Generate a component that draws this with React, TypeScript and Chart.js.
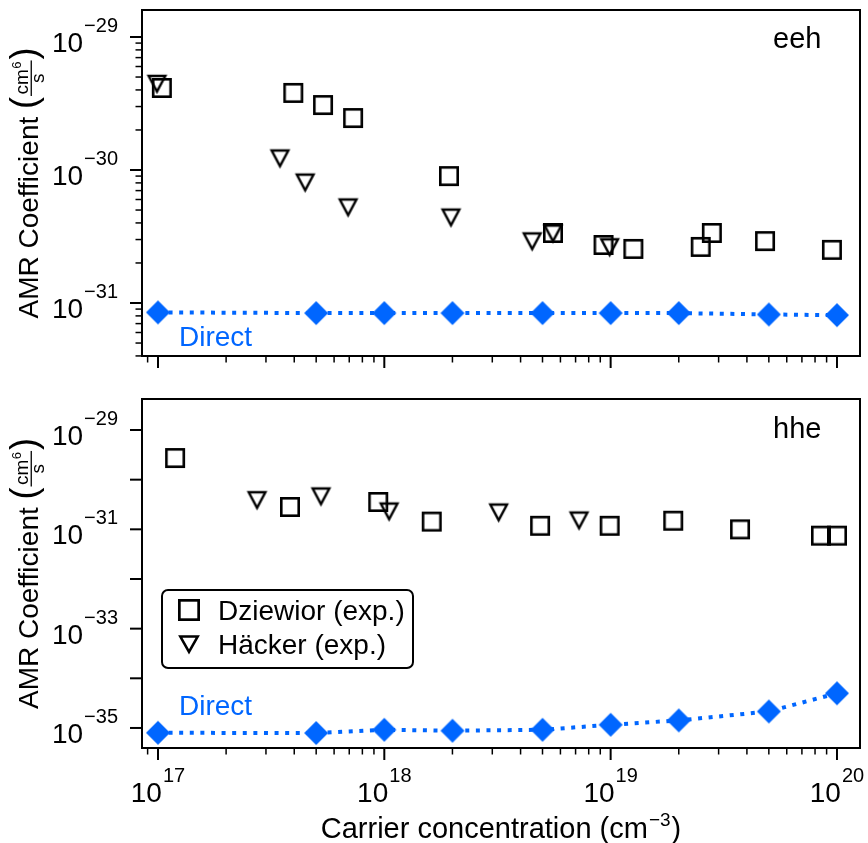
import React, { useEffect, useRef } from 'react';
import { Chart, registerables } from 'chart.js';

Chart.register(...registerables);

const FONT = '"Liberation Sans", Arial, Helvetica, sans-serif';
const BLUE = '#0066ff';

// ---------- data ----------
const directX = [1e17, 5e17, 1e18, 2e18, 5e18, 1e19, 2e19, 5e19, 1e20];
const eehDirect = [8.5e-32, 8.4e-32, 8.4e-32, 8.4e-32, 8.4e-32, 8.4e-32, 8.4e-32, 8.2e-32, 8.1e-32];
const hheDirect = [8.0e-36, 7.9e-36, 9.2e-36, 8.8e-36, 9.2e-36, 1.16e-35, 1.42e-35, 2.15e-35, 5.0e-35];

const eehDziewiorX = [1.04e17, 3.96e17, 5.36e17, 7.28e17, 1.93e18, 5.56e18, 9.3e18, 1.26e19, 2.5e19, 2.8e19, 4.81e19, 9.5e19];
const eehDziewiorY = [4.14e-30, 3.8e-30, 3.08e-30, 2.46e-30, 9.0e-31, 3.36e-31, 2.73e-31, 2.55e-31, 2.64e-31, 3.36e-31, 2.92e-31, 2.51e-31];
const eehHackerX = [9.9e16, 3.46e17, 4.47e17, 6.92e17, 1.97e18, 4.5e18, 5.56e18, 9.9e18];
const eehHackerY = [4.4e-30, 1.21e-30, 7.97e-31, 5.18e-31, 4.35e-31, 2.88e-31, 3.3e-31, 2.6e-31];

const hheDziewiorX = [1.19e17, 3.83e17, 9.4e17, 1.62e18, 4.88e18, 9.9e18, 1.89e19, 3.73e19, 8.5e19, 1.0e20];
const hheDziewiorY = [2.73e-30, 2.82e-31, 3.55e-31, 1.43e-31, 1.18e-31, 1.18e-31, 1.49e-31, 1.0e-31, 7.45e-32, 7.45e-32];
const hheHackerX = [2.74e17, 5.25e17, 1.05e18, 3.2e18, 7.25e18];
const hheHackerY = [3.77e-31, 4.48e-31, 2.23e-31, 2.13e-31, 1.47e-31];

const xMajor = [1e17, 1e18, 1e19, 1e20];
const xMajorLabels = ['17', '18', '19', '20'];
const eehYMajor = [1e-29, 1e-30, 1e-31];
const eehYLabels = ['−29', '−30', '−31'];
const hheYMajor = [1e-29, 1e-30, 1e-31, 1e-32, 1e-33, 1e-34, 1e-35];
const hheYLabels = ['−29', '', '−31', '', '−33', '', '−35'];

const X_MIN = 8.5e16;
const X_MAX = 1.264e20;

// ---------- marker images ----------
function makeSquare(size: number, lw: number) {
  const s = Math.ceil(size + 4);
  const c = document.createElement('canvas');
  c.width = s; c.height = s;
  const g = c.getContext('2d')!;
  g.strokeStyle = '#000';
  g.lineWidth = lw;
  const h = size / 2 - lw / 2;
  g.strokeRect(s / 2 - h, s / 2 - h, 2 * h, 2 * h);
  return c;
}
function makeTriangle(w: number, h: number, lw: number) {
  const s = Math.ceil(Math.max(w, h) + 10);
  const c = document.createElement('canvas');
  c.width = s; c.height = s;
  const g = c.getContext('2d')!;
  g.strokeStyle = '#000';
  g.lineWidth = lw;
  g.lineJoin = 'miter';
  const hw = w / 2 - lw * 0.9;
  const hh = h / 2 - lw * 0.6;
  g.beginPath();
  g.moveTo(s / 2 - hw, s / 2 - hh);
  g.lineTo(s / 2 + hw, s / 2 - hh);
  g.lineTo(s / 2, s / 2 + hh - lw * 0.6);
  g.closePath();
  g.stroke();
  return c;
}
function makeDiamond(r: number) {
  const s = Math.ceil(2 * r + 2);
  const c = document.createElement('canvas');
  c.width = s; c.height = s;
  const g = c.getContext('2d')!;
  g.fillStyle = BLUE;
  g.beginPath();
  g.moveTo(s / 2, s / 2 - r);
  g.lineTo(s / 2 + r, s / 2);
  g.lineTo(s / 2, s / 2 + r);
  g.lineTo(s / 2 - r, s / 2);
  g.closePath();
  g.fill();
  return c;
}

// ---------- text helpers ----------
function drawPow(g: CanvasRenderingContext2D, sup: string, x: number, baseY: number, align: 'center' | 'right') {
  g.fillStyle = '#000';
  g.textBaseline = 'alphabetic';
  g.textAlign = 'left';
  g.font = `28px ${FONT}`;
  const wb = g.measureText('10').width;
  g.font = `20px ${FONT}`;
  const ws = g.measureText(sup).width;
  const gap = 1;
  const total = wb + gap + ws;
  const x0 = align === 'center' ? x - total / 2 : x - total;
  g.font = `28px ${FONT}`;
  g.fillText('10', x0, baseY);
  g.font = `20px ${FONT}`;
  g.fillText(sup, x0 + wb + gap, baseY - 20);
}

function drawYTitle(g: CanvasRenderingContext2D, cx: number, cy: number) {
  g.save();
  g.translate(cx, cy);
  g.rotate(-Math.PI / 2);
  g.fillStyle = '#000';
  g.textAlign = 'left';
  g.textBaseline = 'alphabetic';
  const main = 'AMR Coefficient ';
  g.font = `28px ${FONT}`;
  const wMain = g.measureText(main).width;
  g.font = `36px ${FONT}`;
  const wParen = g.measureText('(').width;
  g.font = `19px ${FONT}`;
  const wCm = g.measureText('cm').width;
  const wS = g.measureText('s').width;
  g.font = `13px ${FONT}`;
  const wSix = g.measureText('6').width;
  const fracW = wCm + wSix + 3;
  const total = wMain + wParen + 1 + fracW + 1 + wParen;
  let x = -total / 2;
  g.font = `28px ${FONT}`;
  g.fillText(main, x, 0);
  x += wMain;
  g.font = `36px ${FONT}`;
  g.fillText('(', x, -2.5);
  x += wParen + 1;
  g.font = `19px ${FONT}`;
  const nx = x + (fracW - (wCm + wSix)) / 2;
  g.fillText('cm', nx, -10);
  g.font = `13px ${FONT}`;
  g.fillText('6', nx + wCm + 0.5, -17);
  g.fillRect(x, -7.4, fracW, 1.3);
  g.font = `19px ${FONT}`;
  g.fillText('s', x + (fracW - wS) / 2, 6);
  x += fracW + 1;
  g.font = `36px ${FONT}`;
  g.fillText(')', x, -2.5);
  g.restore();
}

function drawXTitle(g: CanvasRenderingContext2D, cx: number, baseY: number) {
  g.fillStyle = '#000';
  g.textAlign = 'left';
  g.textBaseline = 'alphabetic';
  const a = 'Carrier concentration (cm';
  const sup = '−3';
  const b = ')';
  g.font = `29px ${FONT}`;
  const wa = g.measureText(a).width;
  const wb = g.measureText(b).width;
  g.font = `19px ${FONT}`;
  const ws = g.measureText(sup).width;
  const total = wa + 1 + ws + 1 + wb;
  let x = cx - total / 2;
  g.font = `29px ${FONT}`;
  g.fillText(a, x, baseY);
  x += wa + 1;
  g.font = `19px ${FONT}`;
  g.fillText(sup, x, baseY - 12);
  x += ws + 1;
  g.font = `29px ${FONT}`;
  g.fillText(b, x, baseY);
}

type PanelSpec = {
  name: string;
  yMin: number;
  yMax: number;
  yMajor: number[];
  yLabels: string[];
  yMinor: boolean;
  direct: number[];
  dzX: number[]; dzY: number[];
  hkX: number[]; hkY: number[];
  padTop: number;
  padBottom: number;
  directTextBase: number;
  nameBase: number;
  showXLabels: boolean;
  legend: boolean;
};

function makePlugin(spec: PanelSpec, legendSq: HTMLCanvasElement, legendTri: HTMLCanvasElement) {
  return {
    id: 'frame_' + spec.name,
    afterDraw(chart: any) {
      const g: CanvasRenderingContext2D = chart.ctx;
      const a = chart.chartArea;
      const xs = chart.scales.x;
      const ys = chart.scales.y;
      g.save();
      g.strokeStyle = '#000';
      g.lineWidth = 2;
      g.strokeRect(a.left, a.top, a.right - a.left, a.bottom - a.top);

      const xTick = (v: number, len: number, lw: number) => {
        const px = xs.getPixelForValue(v);
        if (px < a.left - 0.5 || px > a.right + 0.5) return;
        g.lineWidth = lw;
        g.beginPath();
        g.moveTo(px, a.bottom);
        g.lineTo(px, a.bottom + len);
        g.stroke();
      };
      for (let e = 16; e <= 20; e++) {
        for (let k = 2; k <= 9; k++) xTick(k * Math.pow(10, e), 6.5, 1.5);
      }
      xMajor.forEach((v) => xTick(v, 12, 2));

      const yTick = (v: number, len: number, lw: number) => {
        const py = ys.getPixelForValue(v);
        if (py < a.top - 0.5 || py > a.bottom + 0.5) return;
        g.lineWidth = lw;
        g.beginPath();
        g.moveTo(a.left, py);
        g.lineTo(a.left - len, py);
        g.stroke();
      };
      if (spec.yMinor) {
        for (let e = -33; e <= -28; e++) {
          for (let k = 2; k <= 9; k++) yTick(k * Math.pow(10, e), 6.5, 1.5);
        }
      }
      spec.yMajor.forEach((v) => yTick(v, 12, 2));

      spec.yMajor.forEach((v, i) => {
        const lab = spec.yLabels[i];
        if (!lab) return;
        const py = ys.getPixelForValue(v);
        drawPow(g, lab, a.left - 24, py + 15, 'right');
      });
      if (spec.showXLabels) {
        xMajor.forEach((v, i) => {
          const px = xs.getPixelForValue(v);
          drawPow(g, xMajorLabels[i], px, a.bottom + 54, 'center');
        });
        drawXTitle(g, (a.left + a.right) / 2, a.bottom + 90);
      }

      drawYTitle(g, 38, (a.top + a.bottom) / 2);

      g.fillStyle = '#000';
      g.font = `29px ${FONT}`;
      g.textAlign = 'left';
      g.textBaseline = 'alphabetic';
      g.fillText(spec.name, 773, spec.nameBase);

      g.fillStyle = BLUE;
      g.font = `28px ${FONT}`;
      g.fillText('Direct', 179, spec.directTextBase);

      if (spec.legend) {
        const lx = 162, ly = a.top + 191, lw = 251, lh = 78, r = 6;
        g.lineWidth = 2;
        g.strokeStyle = '#000';
        g.fillStyle = '#fff';
        g.beginPath();
        g.moveTo(lx + r, ly);
        g.lineTo(lx + lw - r, ly);
        g.arcTo(lx + lw, ly, lx + lw, ly + r, r);
        g.lineTo(lx + lw, ly + lh - r);
        g.arcTo(lx + lw, ly + lh, lx + lw - r, ly + lh, r);
        g.lineTo(lx + r, ly + lh);
        g.arcTo(lx, ly + lh, lx, ly + lh - r, r);
        g.lineTo(lx, ly + r);
        g.arcTo(lx, ly, lx + r, ly, r);
        g.closePath();
        g.fill();
        g.stroke();
        g.drawImage(legendSq, 189 - legendSq.width / 2, ly + 20 - legendSq.height / 2);
        g.drawImage(legendTri, 189 - legendTri.width / 2, ly + 55 - legendTri.height / 2);
        g.fillStyle = '#000';
        g.font = `28px ${FONT}`;
        g.fillText('Dziewior (exp.)', 218, ly + 30);
        g.fillText('Häcker (exp.)', 218, ly + 64);
      }
      g.restore();
    },
  };
}

function Panel({ spec, top, height }: { spec: PanelSpec; top: number; height: number }) {
  const ref = useRef<HTMLCanvasElement>(null);
  useEffect(() => {
    const sq = makeSquare(20, 2.6);
    const tri = makeTriangle(21, 20, 2.4);
    const dia = makeDiamond(12);
    const lsq = makeSquare(22, 2.7);
    const ltri = makeTriangle(22, 20, 2.6);
    const pts = (xs: number[], ys: number[]) => xs.map((x, i) => ({ x, y: ys[i] }));
    const chart = new Chart(ref.current!, {
      type: 'scatter',
      data: {
        datasets: [
          {
            label: 'Direct',
            data: pts(directX, spec.direct),
            showLine: true,
            borderColor: BLUE,
            borderWidth: 4,
            borderDash: [4, 6.6],
            borderCapStyle: 'butt',
            tension: 0,
            pointStyle: dia as any,
            pointRadius: 12,
            backgroundColor: BLUE,
          },
          {
            label: 'Dziewior (exp.)',
            data: pts(spec.dzX, spec.dzY),
            showLine: false,
            pointStyle: sq as any,
            pointRadius: 10,
          },
          {
            label: 'Häcker (exp.)',
            data: pts(spec.hkX, spec.hkY),
            showLine: false,
            pointStyle: tri as any,
            pointRadius: 10,
          },
        ],
      },
      options: {
        responsive: false,
        animation: false,
        devicePixelRatio: 1,
        events: [],
        layout: { autoPadding: false, padding: { left: 142, right: 8, top: spec.padTop, bottom: spec.padBottom } },
        scales: {
          x: { type: 'logarithmic', min: X_MIN, max: X_MAX, display: false, bounds: 'data' },
          y: { type: 'logarithmic', min: spec.yMin, max: spec.yMax, display: false, bounds: 'data' },
        },
        plugins: { legend: { display: false }, tooltip: { enabled: false } },
      },
      plugins: [makePlugin(spec, lsq, ltri)],
    } as any);
    return () => chart.destroy();
  }, [spec]);
  return (
    <canvas
      ref={ref}
      width={868}
      height={height}
      style={{ position: 'absolute', left: 0, top, width: 868, height }}
    />
  );
}

const topSpec: PanelSpec = {
  name: 'eeh',
  yMin: 3.995e-32,
  yMax: 1.596e-29,
  yMajor: eehYMajor,
  yLabels: eehYLabels,
  yMinor: true,
  direct: eehDirect,
  dzX: eehDziewiorX, dzY: eehDziewiorY,
  hkX: eehHackerX, hkY: eehHackerY,
  padTop: 10,
  padBottom: 24,
  directTextBase: 346,
  nameBase: 48,
  showXLabels: false,
  legend: false,
};

const bottomSpec: PanelSpec = {
  name: 'hhe',
  yMin: 3.95e-36,
  yMax: 4.21e-29,
  yMajor: hheYMajor,
  yLabels: hheYLabels,
  yMinor: false,
  direct: hheDirect,
  dzX: hheDziewiorX, dzY: hheDziewiorY,
  hkX: hheHackerX, hkY: hheHackerY,
  padTop: 19,
  padBottom: 95,
  directTextBase: 335,
  nameBase: 58,
  showXLabels: true,
  legend: true,
};

export default function App() {
  return (
    <div style={{ position: 'absolute', left: 0, top: 0, width: 868, height: 843, overflow: 'hidden', background: '#fff' }}>
      <Panel spec={topSpec} top={0} height={380} />
      <Panel spec={bottomSpec} top={380} height={463} />
    </div>
  );
}
